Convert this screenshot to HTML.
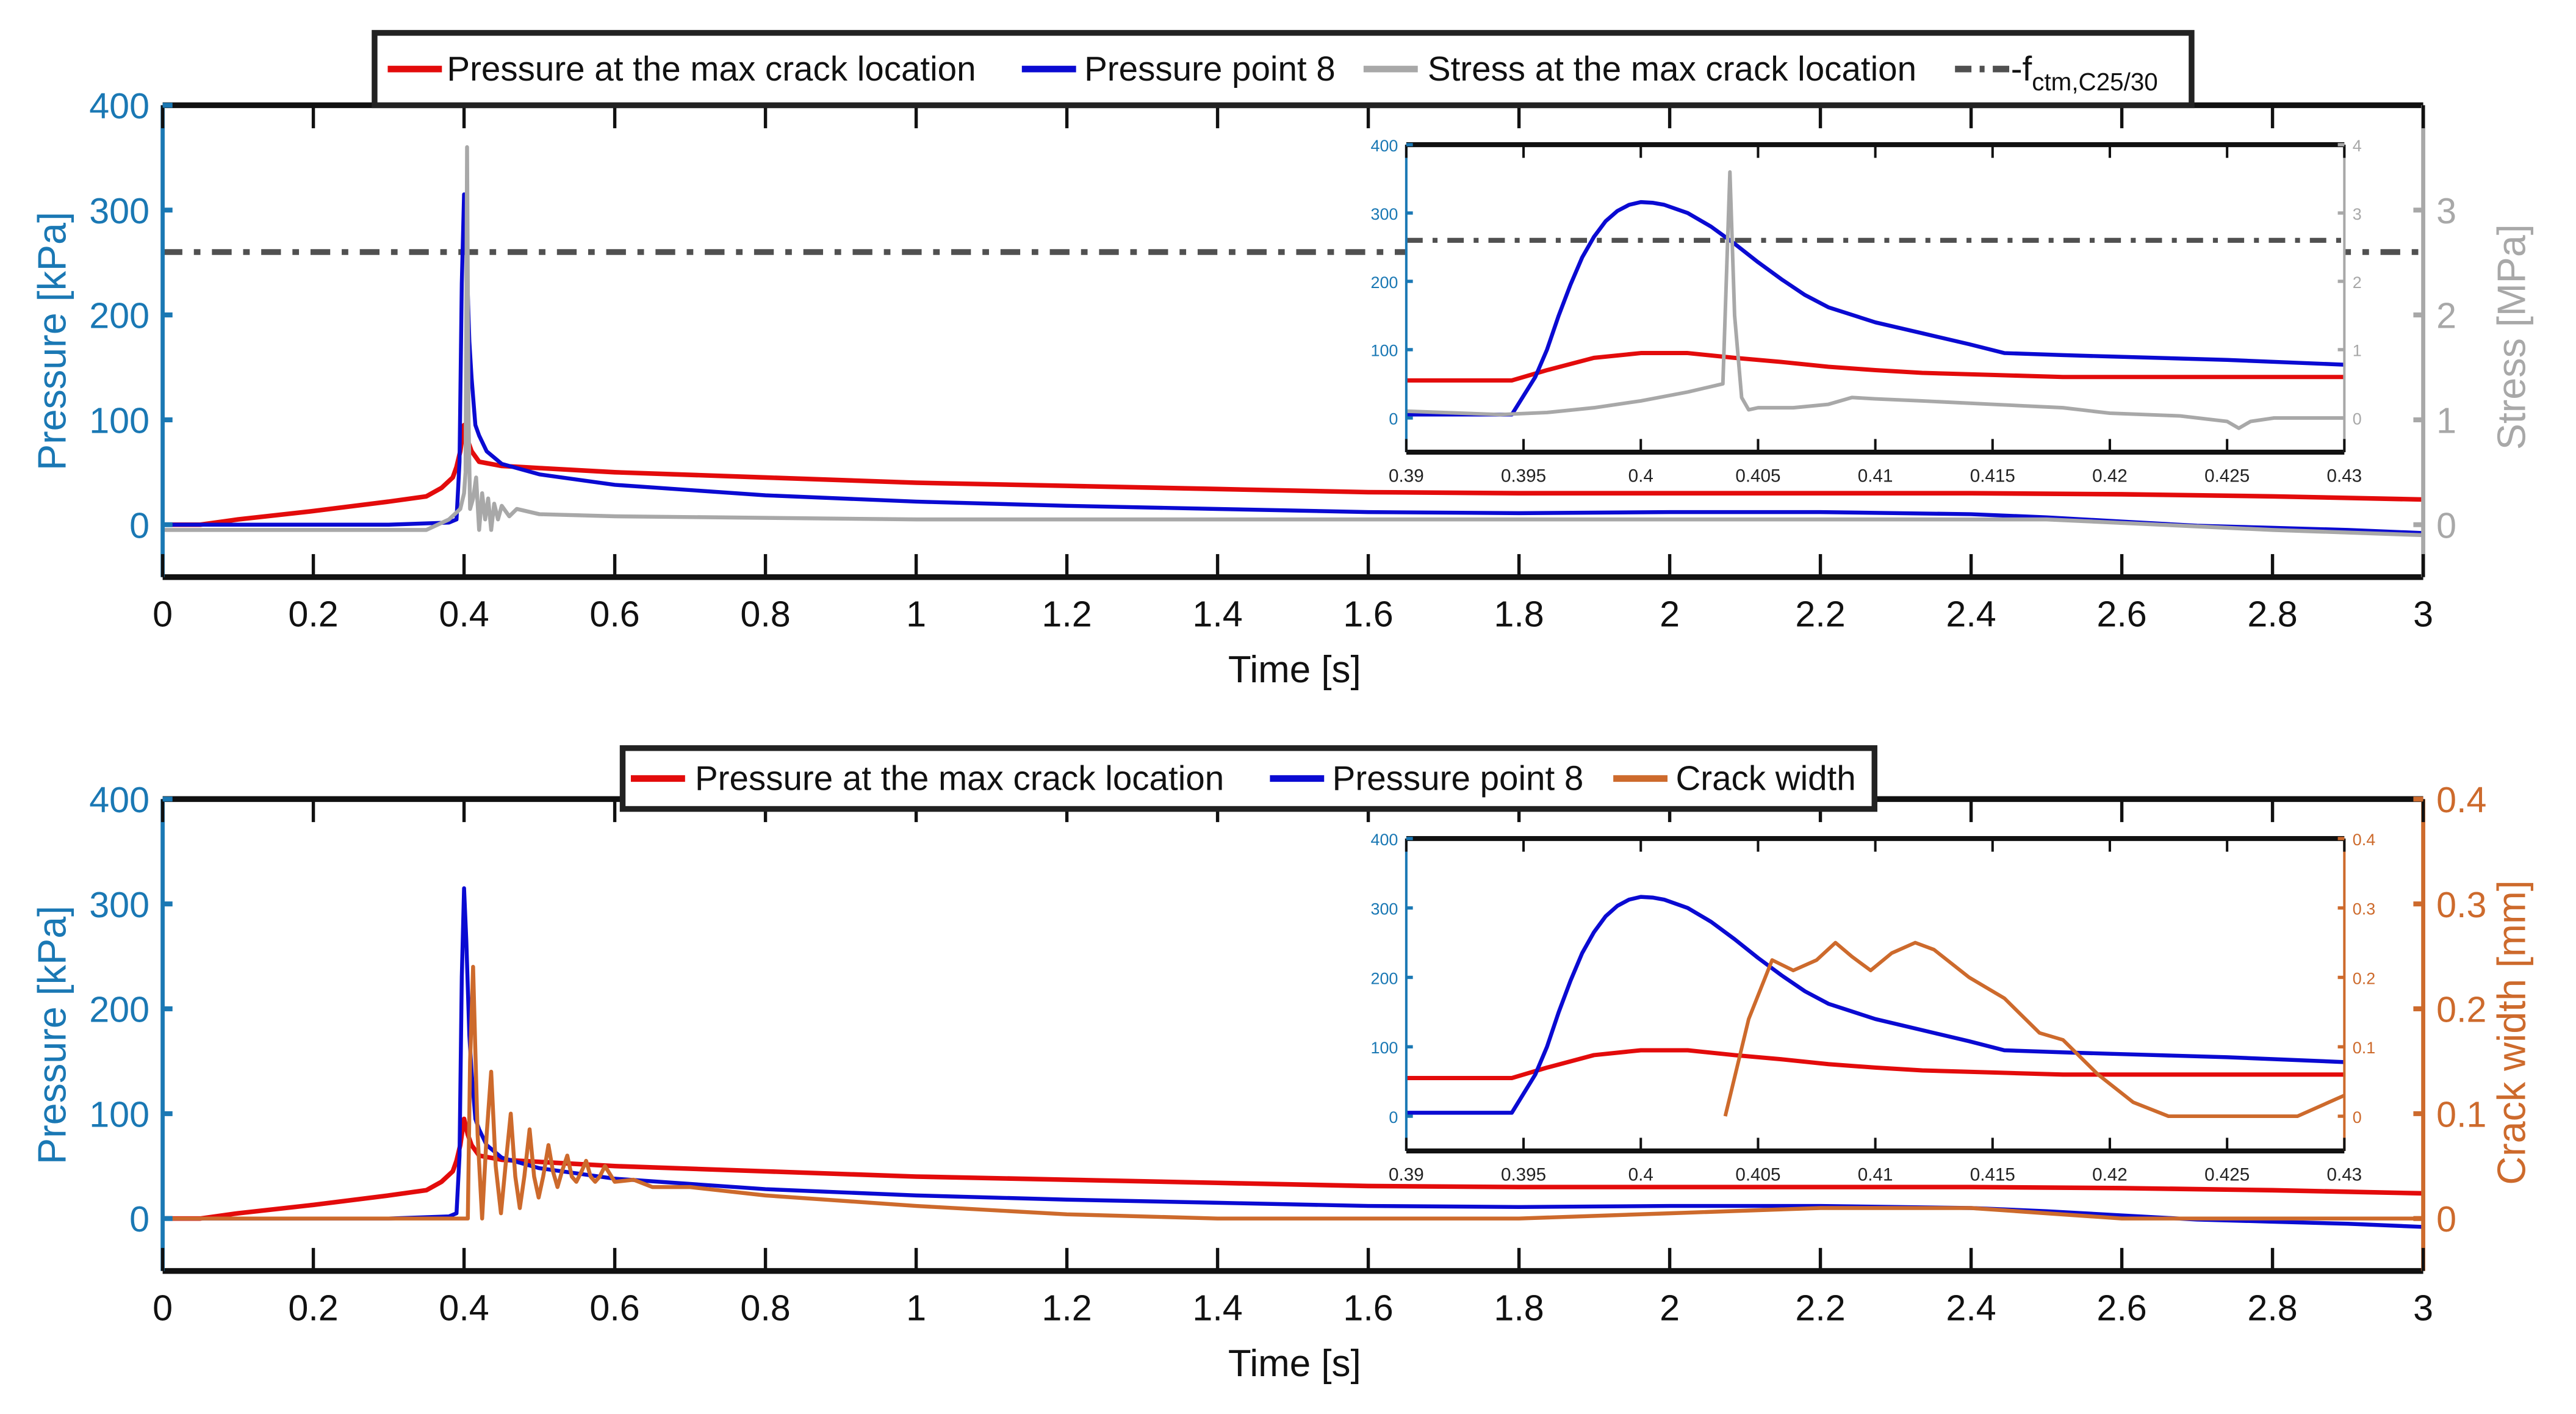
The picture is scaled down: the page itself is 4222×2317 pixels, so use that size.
<!DOCTYPE html>
<html><head><meta charset="utf-8">
<style>
html,body{margin:0;padding:0;background:#fff;}
svg{display:block;font-family:"Liberation Sans",sans-serif;}
</style></head>
<body>
<svg id="fig" width="4222" height="2317" viewBox="0 0 1568 860" preserveAspectRatio="none" xmlns="http://www.w3.org/2000/svg"></svg>
<script>
// ---------- data ----------
const timeTicks = [0,0.2,0.4,0.6,0.8,1,1.2,1.4,1.6,1.8,2,2.2,2.4,2.6,2.8,3];
const timeTickLabels = ["0","0.2","0.4","0.6","0.8","1","1.2","1.4","1.6","1.8","2","2.2","2.4","2.6","2.8","3"];
const pressureTicks = [0,100,200,300,400];
const stressTicks = [0,1,2,3];
const stressInsetTicks = [0,1,2,3,4];
const crackTicks = [0,0.1,0.2,0.3,0.4];
const insetTimeTicks = [0.39,0.395,0.4,0.405,0.41,0.415,0.42,0.425,0.43];
const insetTimeLabels = ["0.39","0.395","0.4","0.405","0.41","0.415","0.42","0.425","0.43"];
const fctm = 2.6;

const redT = [0,0.05,0.1,0.2,0.3,0.35,0.37,0.385,0.39,0.395,0.4,0.405,0.41,0.42,0.45,0.5,0.6,0.8,1.0,1.2,1.4,1.6,1.8,2.0,2.2,2.4,2.6,2.8,3.0];
const redP = [0,0,5,13,22,27,35,45,55,70,95,80,70,60,56,54,50,45,40,37,34,31,30,30,30,30,29,27,24];
const blueT = [0,0.1,0.3,0.38,0.39,0.394,0.397,0.4,0.403,0.407,0.41,0.415,0.42,0.43,0.45,0.5,0.6,0.8,1.0,1.2,1.4,1.6,1.8,2.0,2.2,2.4,2.5,2.6,2.7,2.8,2.9,3.0];
const blueP = [0,0,0,2,5,60,230,315,265,175,140,95,85,70,58,48,38,28,22,18,15,12,11,12,12,10,7,3,-1,-3,-5,-8];
const stressT = [0,0.2,0.35,0.38,0.395,0.4,0.402,0.404,0.406,0.408,0.412,0.416,0.42,0.424,0.428,0.432,0.436,0.44,0.445,0.45,0.46,0.47,0.5,0.6,1.0,1.6,2.0,2.5,2.8,3.0];
const stressS = [-0.05,-0.05,-0.05,0.05,0.15,0.3,0.5,3.6,1.0,0.15,0.25,0.45,-0.05,0.3,0.05,0.25,-0.05,0.2,0.05,0.18,0.08,0.15,0.1,0.08,0.05,0.05,0.05,0.05,-0.05,-0.1];
const crackT = [0,0.395,0.405,0.408,0.412,0.418,0.424,0.43,0.436,0.442,0.449,0.455,0.462,0.468,0.474,0.48,0.487,0.493,0.499,0.505,0.512,0.518,0.524,0.53,0.537,0.543,0.549,0.556,0.562,0.568,0.574,0.58,0.587,0.6,0.625,0.65,0.7,0.8,1.0,1.2,1.4,1.6,1.8,2.0,2.2,2.4,2.5,2.6,2.8,3.0];
const crackW = [0,0,0,0.15,0.24,0.08,0,0.08,0.14,0.05,0.005,0.05,0.10,0.04,0.01,0.04,0.085,0.04,0.02,0.04,0.07,0.045,0.03,0.045,0.06,0.04,0.035,0.045,0.055,0.04,0.035,0.04,0.05,0.035,0.037,0.03,0.03,0.022,0.012,0.004,0,0,0,0.005,0.01,0.01,0.005,0,0,0];

const inRedT = [0.39,0.3945,0.396,0.398,0.4,0.402,0.404,0.406,0.408,0.41,0.412,0.415,0.418,0.42,0.43];
const inRedP = [55,55,70,88,95,95,88,82,75,70,66,63,60,60,60];
const inBlueT = [0.39,0.3945,0.3955,0.396,0.3965,0.397,0.3975,0.398,0.3985,0.399,0.3995,0.4,0.4005,0.401,0.402,0.403,0.404,0.405,0.406,0.407,0.408,0.41,0.412,0.414,0.4155,0.418,0.42,0.425,0.43];
const inBlueP = [5,5,60,100,150,195,235,265,288,303,312,316,315,312,300,280,255,228,203,180,162,140,124,108,95,92,90,85,78];
const inStressT = [0.39,0.394,0.396,0.398,0.4,0.402,0.4035,0.4038,0.404,0.4043,0.4046,0.405,0.4065,0.408,0.409,0.41,0.412,0.415,0.418,0.42,0.423,0.425,0.4255,0.426,0.427,0.43];
const inStressS = [0.1,0.05,0.08,0.15,0.25,0.38,0.5,3.6,1.5,0.3,0.12,0.15,0.15,0.2,0.3,0.28,0.25,0.2,0.15,0.07,0.03,-0.05,-0.15,-0.05,0,0];
const inCrackT = [0.4036,0.4046,0.4056,0.4065,0.4075,0.4083,0.409,0.4098,0.4107,0.4117,0.4125,0.414,0.4155,0.417,0.418,0.4195,0.421,0.4225,0.428,0.43];
const inCrackW = [0,0.14,0.225,0.21,0.225,0.25,0.23,0.21,0.235,0.25,0.24,0.2,0.17,0.12,0.11,0.06,0.02,0,0,0.03];

// ---------- drawing ----------
const NS = "http://www.w3.org/2000/svg";
const svg = document.getElementById('fig');
function el(tag, attrs, parent){const e=document.createElementNS(NS,tag);for(const k in attrs)e.setAttribute(k,attrs[k]);(parent||svg).appendChild(e);return e;}
const RED="#e30b0b", BLUE="#0a0ad2", GRAY="#a8a8a8", ORANGE="#cd6a2c", AXB="#1a78b4", DASH="#505050";

function axis(x0,x1,y0,y1,xmin,xmax,ymin,ymax){
  return {X:v=>x0+(v-xmin)/(xmax-xmin)*(x1-x0), Y:v=>y1-(v-ymin)/(ymax-ymin)*(y1-y0)};
}
function line(g,xs,ys,X,Y,color,w,name){
  let d="";for(let i=0;i<xs.length;i++)d+=(i?"L":"M")+X(xs[i]).toFixed(2)+","+Y(ys[i]).toFixed(2);
  const p=el("path",{d:d,fill:"none",stroke:color,"stroke-width":w,"stroke-linejoin":"round"},g);
  
  
  return p;
}
function text(g,x,y,s,size,color,anchor,name){
  const t=el("text",{x:x,y:y,"font-size":size,fill:color,"text-anchor":anchor||"middle"},g);
  t.textContent=s;
  
  
  return t;
}

function mainChart(cfg){
  const g=el("g",{});
  
  
  const x0=99,x1=1475,y0=cfg.top,y1=cfg.bottom;
  const A=axis(x0,x1,y0,y1,0,3,-50,400);
  const R=axis(x0,x1,y0,y1,0,3,cfg.rmin,cfg.rmax);
  if(cfg.dash){const dl=line(g,[0,3],[fctm,fctm],A.X,R.Y,DASH,3.5,"fctm-line");dl.setAttribute("stroke-dasharray","12,7,4,7");}
  line(g,redT,redP,A.X,A.Y,RED,2.8,"pressure-max-crack-line");
  line(g,blueT,blueP,A.X,A.Y,BLUE,2.4,"pressure-point-8-line");
  line(g,cfg.rx,cfg.ry,A.X,R.Y,cfg.rcolor,2.4,cfg.rname);
  el("line",{x1:x0,y1:y0,x2:x1,y2:y0,stroke:"#111","stroke-width":3.5},g);
  el("line",{x1:x0,y1:y1,x2:x1,y2:y1,stroke:"#111","stroke-width":3.5},g);
  el("line",{x1:x0,y1:y0,x2:x0,y2:y1,stroke:AXB,"stroke-width":2.5},g);
  el("line",{x1:x1,y1:y0,x2:x1,y2:y1,stroke:cfg.rcolor,"stroke-width":2.5},g);
  timeTicks.forEach((t,i)=>{
    const x=A.X(t);
    el("line",{x1:x,y1:y0,x2:x,y2:y0+14,stroke:"#111","stroke-width":2},g);
    el("line",{x1:x,y1:y1,x2:x,y2:y1-14,stroke:"#111","stroke-width":2},g);
    text(g,x,y1+30,timeTickLabels[i],22,"#111","middle","x-tick-label");
  });
  pressureTicks.forEach(v=>{
    const y=A.Y(v);
    el("line",{x1:x0,y1:y,x2:x0+6,y2:y,stroke:AXB,"stroke-width":3},g);
    text(g,x0-8,y+8,String(v),22,AXB,"end","y-tick-label");
  });
  cfg.rticks.forEach(v=>{
    const y=R.Y(v);
    el("line",{x1:x1,y1:y,x2:x1-6,y2:y,stroke:cfg.rcolor,"stroke-width":3},g);
    text(g,x1+8,y+8,String(v),22,cfg.rcolor,"start","right-tick-label");
  });
  text(g,788,y1+64,"Time [s]",23,"#111","middle","x-axis-title");
  const yl=text(g,0,0,"Pressure [kPa]",24,AXB,"middle","y-axis-title");
  yl.setAttribute("transform",`translate(40,${(y0+y1)/2}) rotate(-90)`);
  const rl=text(g,0,0,cfg.rlabel,24,cfg.rcolor,"middle","right-axis-title");
  rl.setAttribute("transform",`translate(1537,${cfg.rlabelY}) rotate(-90)`);
  // inset
  const ix0=856,ix1=1427,iy0=cfg.itop,iy1=cfg.ibottom;
  const IA=axis(ix0,ix1,iy0,iy1,0.39,0.43,-50,400);
  const IR=axis(ix0,ix1,iy0,iy1,0.39,0.43,cfg.irmin,cfg.irmax);
  const gi=el("g",{},g);
  
  
  el("rect",{x:ix0,y:iy0,width:ix1-ix0,height:iy1-iy0,fill:"#fff"},gi);
  if(cfg.dash){const dl=line(gi,[0.39,0.43],[fctm,fctm],IA.X,IR.Y,DASH,3,"inset-fctm-line");dl.setAttribute("stroke-dasharray","10,6,3,6");}
  line(gi,inRedT,inRedP,IA.X,IA.Y,RED,2.6,"inset-pressure-max-crack-line");
  line(gi,inBlueT,inBlueP,IA.X,IA.Y,BLUE,2.4,"inset-pressure-point-8-line");
  line(gi,cfg.irx,cfg.iry,IA.X,IR.Y,cfg.rcolor,2.2,"inset-"+cfg.rname);
  el("line",{x1:ix0,y1:iy0,x2:ix1,y2:iy0,stroke:"#111","stroke-width":3},gi);
  el("line",{x1:ix0,y1:iy1,x2:ix1,y2:iy1,stroke:"#111","stroke-width":3},gi);
  el("line",{x1:ix0,y1:iy0,x2:ix0,y2:iy1,stroke:AXB,"stroke-width":1.5},gi);
  el("line",{x1:ix1,y1:iy0,x2:ix1,y2:iy1,stroke:cfg.rcolor,"stroke-width":1.5},gi);
  insetTimeTicks.forEach((t,i)=>{
    const x=IA.X(t);
    el("line",{x1:x,y1:iy0,x2:x,y2:iy0+8,stroke:"#111","stroke-width":1.5},gi);
    el("line",{x1:x,y1:iy1,x2:x,y2:iy1-8,stroke:"#111","stroke-width":1.5},gi);
    text(gi,x,iy1+18,insetTimeLabels[i],11,"#222","middle","inset-x-tick-label");
  });
  pressureTicks.forEach(v=>{
    const y=IA.Y(v);
    el("line",{x1:ix0,y1:y,x2:ix0+4,y2:y,stroke:AXB,"stroke-width":2},gi);
    text(gi,ix0-5,y+4,String(v),10,AXB,"end","inset-y-tick-label");
  });
  cfg.irticks.forEach(v=>{
    const y=IR.Y(v);
    el("line",{x1:ix1,y1:y,x2:ix1-4,y2:y,stroke:cfg.rcolor,"stroke-width":2},gi);
    text(gi,ix1+5,y+4,String(v),10,cfg.rcolor,"start","inset-right-tick-label");
  });
}

function legend(x0,y0,x1,y1,entries,name){
  const g=el("g",{});
  
  
  el("rect",{x:x0,y:y0,width:x1-x0,height:y1-y0,fill:"#fff",stroke:"#222","stroke-width":3.5},g);
  const cy=(y0+y1)/2;
  entries.forEach(e=>{
    const ln=el("line",{x1:e.lx,y1:cy,x2:e.lx+33,y2:cy,stroke:e.c,"stroke-width":4},g);
    if(e.dash)ln.setAttribute("stroke-dasharray","10,5,3,5");
    const t=text(g,e.tx,cy+7,e.t,21,"#111","start","legend-entry");
    if(e.sub){const ts=el("tspan",{"font-size":15,dy:6},t);ts.textContent=e.sub;}
  });
}

mainChart({name:"top-chart",top:64,bottom:351,rmin:-0.5,rmax:4,rcolor:GRAY,rticks:stressTicks,rlabel:"Stress [MPa]",rlabelY:205,
  rx:stressT,ry:stressS,rname:"stress-max-crack-line",dash:true,itop:88,ibottom:275,irmin:-0.5,irmax:4,irticks:stressInsetTicks,irx:inStressT,iry:inStressS});
mainChart({name:"bottom-chart",top:486,bottom:773,rmin:-0.05,rmax:0.4,rcolor:ORANGE,rticks:crackTicks,rlabel:"Crack width [mm]",rlabelY:628,
  rx:crackT,ry:crackW,rname:"crack-width-line",dash:false,itop:510,ibottom:700,irmin:-0.05,irmax:0.4,irticks:crackTicks,irx:inCrackT,iry:inCrackW});

legend(228,20,1334,64,[
  {lx:236,tx:272,c:RED,t:"Pressure at the max crack location"},
  {lx:622,tx:660,c:BLUE,t:"Pressure point 8"},
  {lx:830,tx:869,c:GRAY,t:"Stress at the max crack location"},
  {lx:1190,tx:1224,c:DASH,dash:true,t:"-f",sub:"ctm,C25/30"}
],"top-legend");
legend(379,455,1141,492,[
  {lx:384,tx:423,c:RED,t:"Pressure at the max crack location"},
  {lx:773,tx:811,c:BLUE,t:"Pressure point 8"},
  {lx:982,tx:1020,c:ORANGE,t:"Crack width"}
],"bottom-legend");
</script>
</body></html>
